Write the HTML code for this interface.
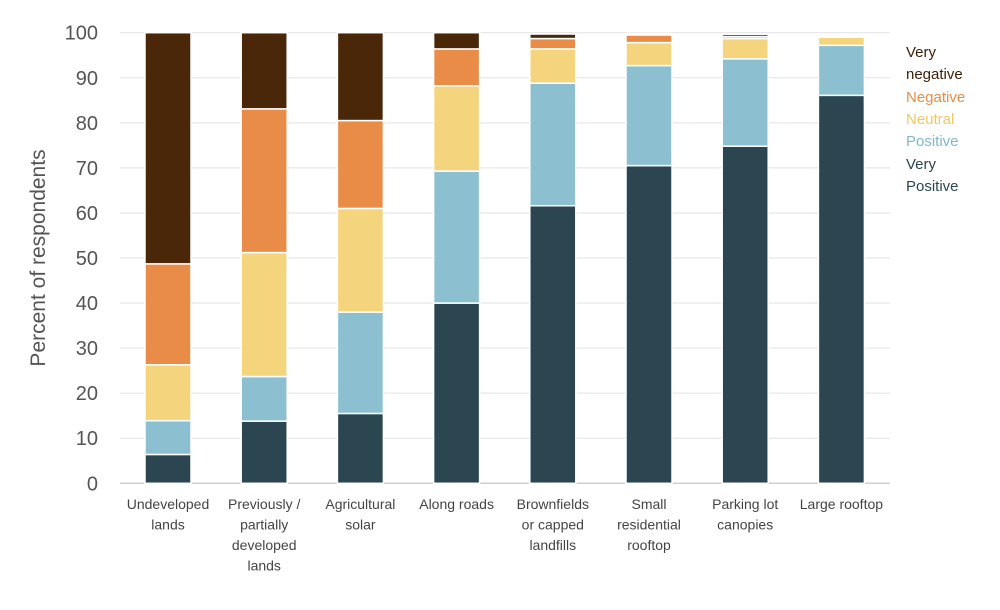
<!DOCTYPE html>
<html><head><meta charset="utf-8"><style>
body{margin:0;background:#fff;width:1000px;height:605px;overflow:hidden;font-family:"Liberation Sans",sans-serif}
</style></head><body>
<svg id="chart" width="1000" height="605" xmlns="http://www.w3.org/2000/svg">
<g id="grid"></g><g id="bars"></g><g id="labels"></g>
<text transform="translate(45,258) rotate(-90)" text-anchor="middle" font-size="21" fill="#555">Percent of respondents</text>
<g font-size="15">
<text x="906" y="57" fill="#3a1f08">Very</text>
<text x="906" y="79" fill="#3a1f08">negative</text>
<text x="906" y="102" fill="#e88c47">Negative</text>
<text x="906" y="124" fill="#f0c860">Neutral</text>
<text x="906" y="146" fill="#7fb8cc">Positive</text>
<text x="906" y="169" fill="#2b4650">Very</text>
<text x="906" y="191" fill="#2b4650">Positive</text>
</g>
</svg>
<script>
const categories=[["Undeveloped","lands"],["Previously /","partially","developed","lands"],["Agricultural","solar"],["Along roads"],["Brownfields","or capped","landfills"],["Small","residential","rooftop"],["Parking lot","canopies"],["Large rooftop"]];
const veryPositive=[6.4,13.8,15.5,40.0,61.6,70.5,74.8,86.1];
const positive=[7.5,9.9,22.5,29.3,27.2,22.2,19.4,11.1];
const neutral=[12.4,27.5,23.0,18.9,7.6,5.1,4.5,1.8];
const negative=[22.4,31.9,19.5,8.2,2.3,1.7,0.4,0.3];
const veryNegative=[51.3,16.9,19.5,3.6,1.0,0.3,0.5,0.3];
const yTicks=[0,10,20,30,40,50,60,70,80,90,100];
const seriesNames=["very-positive","positive","neutral","negative","very-negative"];
const seriesColors=["#2b4650","#8cc0d1","#f5d47e","#e88c47","#4a2709"];
const NS="http://www.w3.org/2000/svg";
const y0=483.3,yScale=4.506;
const y=v=>y0-v*yScale;
const x=i=>168+i*96.2;
const bw=46;
function mk(tag,attrs,parent){const e=document.createElementNS(NS,tag);for(const k in attrs)e.setAttribute(k,attrs[k]);parent.appendChild(e);return e;}
const grid=document.getElementById('grid'),bars=document.getElementById('bars'),labels=document.getElementById('labels');
yTicks.forEach(t=>{
  const l=mk('line',{x1:120,x2:890,y1:y(t),y2:y(t),stroke:t===0?'#cfcfcf':'#e2e2e2','stroke-width':t===0?1.5:1},grid);
  
  
  const tx=mk('text',{x:98,y:y(t)+7,'text-anchor':'end','font-size':20,fill:'#555'},labels);
  tx.textContent=t;
  
  
});
const series=[veryPositive,positive,neutral,negative,veryNegative];
categories.forEach((c,i)=>{
  let cum=0;
  series.forEach((s,j)=>{
    const v=s[i];const top=y(cum+v),bot=y(cum);
    const r=mk('rect',{x:x(i)-bw/2,y:top,width:bw,height:Math.max(bot-top,0),fill:seriesColors[j],stroke:'#fff','stroke-width':1.5},bars);
    
    
    cum+=v;
  });
  const t=mk('text',{x:x(i),y:0,'text-anchor':'middle','font-size':14,fill:'#444'},labels);
  
  
  c.forEach((line,k)=>{const ts=mk('tspan',{x:x(i),y:509+k*20.5},t);ts.textContent=line;});
});
</script>
</body></html>
